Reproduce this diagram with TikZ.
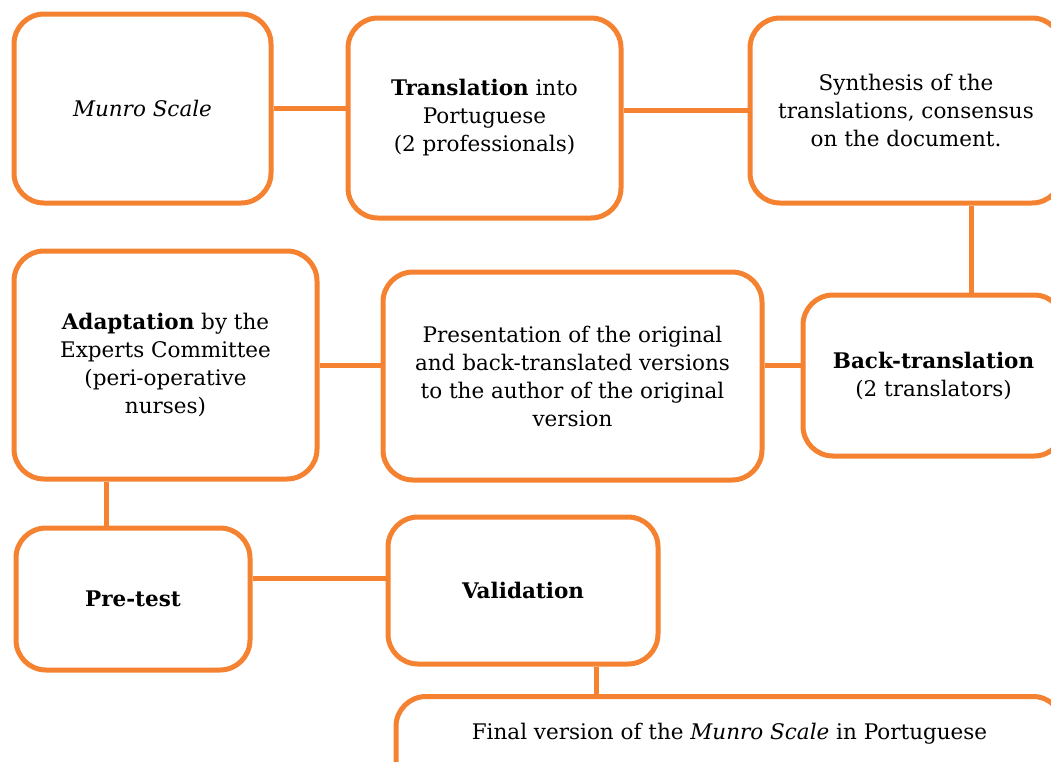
\documentclass[tikz,border=0pt]{standalone}
\usepackage{fontspec}
\setmainfont{DejaVu Serif}
\definecolor{boxorange}{RGB}{245,130,48}
\begin{document}
\begin{tikzpicture}[x=1pt,y=-1pt,
  box/.style={draw=boxorange,line width=5pt,rounded corners=30pt,fill=white,
    align=center,inner sep=0pt,font=\fontsize{21.5}{28}\selectfont},
  link/.style={draw=boxorange,line width=5pt}]
\useasboundingbox (0,0) rectangle (1051,761);
\clip (0,0) rectangle (1051,761);
% nodes
\node[box,minimum width=257pt,minimum height=189pt] (A) at (142.5,108.5) {\textit{Munro Scale}};
\node[box,minimum width=273pt,minimum height=200pt] (B) at (484.5,118) {\textbf{Translation} into\\Portuguese\\(2 professionals)};
\node[box,minimum width=312pt,minimum height=185pt] (C) at (906,110.5) {Synthesis of the\\translations, consensus\\on the document.};
\node[box,minimum width=261pt,minimum height=161pt] (D) at (933.5,375.5) {\textbf{Back-translation}\\(2 translators)};
\node[box,minimum width=379pt,minimum height=208pt] (E) at (572.5,376) {Presentation of the original\\and back-translated versions\\to the author of the original\\version};
\node[box,minimum width=303pt,minimum height=228pt] (F) at (165.5,365) {\textbf{Adaptation} by the\\Experts Committee\\(peri-operative\\nurses)};
\node[box,minimum width=234pt,minimum height=142pt] (G) at (133,599) {\textbf{Pre-test}};
\node[box,minimum width=270pt,minimum height=147pt] (H) at (523,590.5) {\textbf{Validation}};
\node[box,anchor=north,minimum width=667pt,text height=43pt,text depth=60pt] (I) at (729.5,694) {Final version of the \textit{Munro Scale} in Portuguese};
% helper coordinates for off-centre connectors
\coordinate (cd) at (971,0);
\coordinate (de) at (0,365);
\coordinate (gh) at (0,578);
\coordinate (fg) at (106,0);
\coordinate (hi) at (596,0);
% connectors
\draw[link] (A.east) -- (A.east -| B.west);
\draw[link] (C.west) -- (C.west -| B.east);
\draw[link] (C.south -| cd) -- (D.north -| cd);
\draw[link] (D.west |- de) -- (E.east |- de);
\draw[link] (F.east) -- (F.east -| E.west);
\draw[link] (F.south -| fg) -- (G.north -| fg);
\draw[link] (G.east |- gh) -- (H.west |- gh);
\draw[link] (H.south -| hi) -- (I.north -| hi);
\end{tikzpicture}
\end{document}
